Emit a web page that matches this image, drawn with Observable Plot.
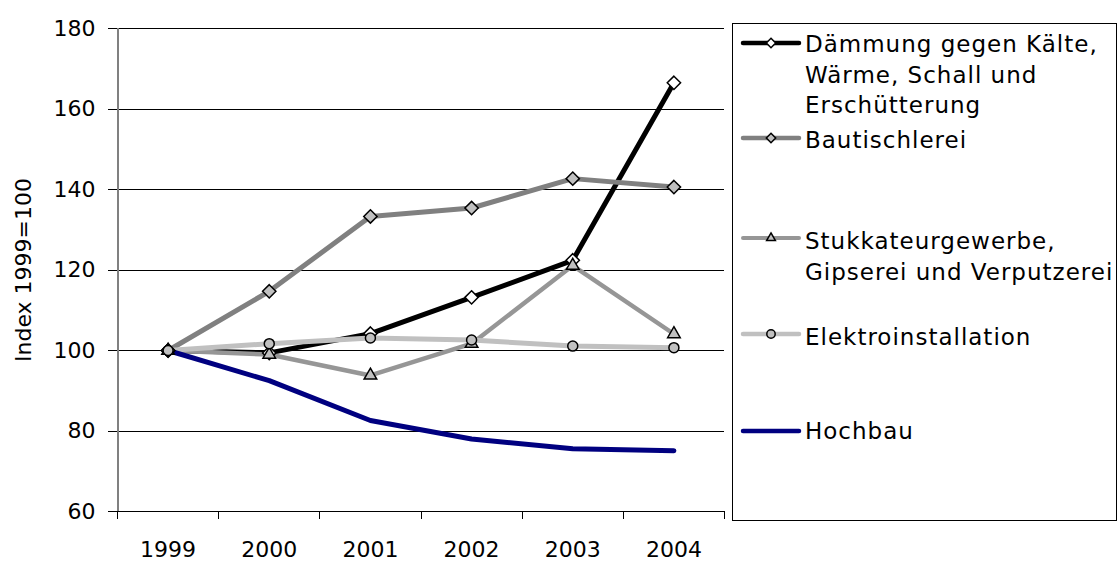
<!DOCTYPE html>
<html><head><meta charset="utf-8">
<script src="https://cdn.jsdelivr.net/npm/d3@7"></script>
<script src="https://cdn.jsdelivr.net/npm/@observablehq/plot@0.6"></script>
<style>
html,body{margin:0;padding:0;background:#fff;}
#wrap{position:relative;width:1120px;height:562px;overflow:hidden;}
#wrap svg{display:block;}
#legend{position:absolute;left:0;top:0;}
</style></head><body><div id="wrap"></div>
<script>
const years = [1999, 2000, 2001, 2002, 2003, 2004];
const seriesNames = [
  "Dämmung gegen Kälte, Wärme, Schall und Erschütterung",
  "Bautischlerei",
  "Stukkateurgewerbe, Gipserei und Verputzerei",
  "Elektroinstallation",
  "Hochbau"
];
const legendLabelLines = [
  ["Dämmung gegen Kälte,", "Wärme, Schall und", "Erschütterung"],
  ["Bautischlerei"],
  ["Stukkateurgewerbe,", "Gipserei und Verputzerei"],
  ["Elektroinstallation"],
  ["Hochbau"]
];
const daemmung      = [100, 99.4, 104.2, 113.2, 122.4, 166.5];
const bautischlerei = [100, 114.7, 133.3, 135.4, 142.7, 140.6];
const stukkateur    = [100, 99.0, 93.8, 101.7, 121.1, 104.1];
const elektro       = [100, 101.7, 103.1, 102.6, 101.1, 100.7];
const hochbau       = [100, 92.5, 82.6, 78.0, 75.6, 75.1];
const yTicks = [60, 80, 100, 120, 140, 160, 180];
const yLabel = "Index 1999=100";

const seriesValues = [daemmung, bautischlerei, stukkateur, elektro, hochbau];

// styles
const lineColors = ["#000000", "#808080", "#969696", "#c0c0c0", "#000080"];
const lineWidths = [5, 5, 4.5, 5, 5];
const markerSymbols = ["diamond2", "diamond2", "triangle2", "circle", null];
const markerFills = ["#ffffff", "#c0c0c0", "#c0c0c0", "#c0c0c0", null];
const markerR = [6, 6, 6, 5, 0];
const FONT = "DejaVu Sans";

const data = [];
seriesNames.forEach((name, i) => years.forEach((yr, j) => data.push({series: name, idx: i, year: yr, value: seriesValues[i][j]})));

const boundaries = [...years.map(y => y - 0.5), years[years.length - 1] + 0.5];

const marks = [
  Plot.gridY(yTicks, {stroke: "#000", strokeOpacity: 1, shapeRendering: "crispEdges"}),
  Plot.axisY(yTicks, {tickSize: 9, tickPadding: 13, stroke: "#000", fontSize: 22, label: yLabel, labelAnchor: "center", labelArrow: "none", labelOffset: 102, shapeRendering: "crispEdges"}),
  Plot.axisX(boundaries, {tickSize: 8, stroke: "#000", tickFormat: () => "", label: null, shapeRendering: "crispEdges"}),
  Plot.axisX(years, {tickSize: 0, tickPadding: 30, fontSize: 22, tickFormat: d => String(d), label: null}),
  Plot.ruleY([60], {stroke: "#000", shapeRendering: "crispEdges"}),
  Plot.ruleX([boundaries[0]], {stroke: "#808080", strokeWidth: 2, shapeRendering: "crispEdges"})
];
seriesNames.forEach((name, i) => {
  marks.push(Plot.line(data.filter(d => d.idx === i), {x: "year", y: "value", stroke: lineColors[i], strokeWidth: lineWidths[i], strokeLinejoin: "round", strokeLinecap: "round"}));
});
seriesNames.forEach((name, i) => {
  if (!markerSymbols[i]) return;
  marks.push(Plot.dot(data.filter(d => d.idx === i), {x: "year", y: "value", symbol: markerSymbols[i], r: markerR[i], fill: markerFills[i], stroke: "#000", strokeWidth: 1.5}));
});

const chart = Plot.plot({
  width: 1120, height: 562,
  marginLeft: 117, marginRight: 396, marginTop: 28, marginBottom: 51,
  style: {fontFamily: FONT, fontSize: "22px", color: "#000", background: "#fff"},
  x: {type: "linear", domain: [boundaries[0], boundaries[boundaries.length - 1]]},
  y: {domain: [60, 180]},
  marks
});
const wrap = document.getElementById("wrap");
wrap.appendChild(chart);

// legend overlay
const leg = d3.select(wrap).append("svg").attr("id", "legend").attr("width", 1120).attr("height", 562)
  .style("font-family", FONT).style("font-size", "23px").style("letter-spacing", "1px");
leg.append("rect").attr("x", 732.5).attr("y", 23.5).attr("width", 384).attr("height", 497)
  .attr("fill", "none").attr("stroke", "#000").attr("stroke-width", 1);
const sampleY = [43, 138, 238, 334, 431];
const baseY = [52, 148, 249, 345, 439];
seriesNames.forEach((name, i) => {
  const g = leg.append("g");
  g.append("line").attr("x1", 743).attr("x2", 799).attr("y1", sampleY[i]).attr("y2", sampleY[i])
    .attr("stroke", lineColors[i]).attr("stroke-width", lineWidths[i] - 0.5).attr("stroke-linecap", "round");
  if (markerSymbols[i]) {
    const sym = {diamond2: d3.symbolDiamond2, triangle2: d3.symbolTriangle2, circle: d3.symbolCircle}[markerSymbols[i]];
    g.append("path").attr("transform", `translate(771,${sampleY[i]})`)
      .attr("d", d3.symbol(sym, Math.PI * 4.2 * 4.2)())
      .attr("fill", markerFills[i]).attr("stroke", "#000").attr("stroke-width", 1.5);
  }
  const t = g.append("text").attr("x", 805).attr("y", baseY[i]).attr("fill", "#000");
  legendLabelLines[i].forEach((ln, k) => {
    t.append("tspan").attr("x", 805).attr("y", baseY[i] + k * 30.5).text(ln);
  });
});
</script></body></html>
